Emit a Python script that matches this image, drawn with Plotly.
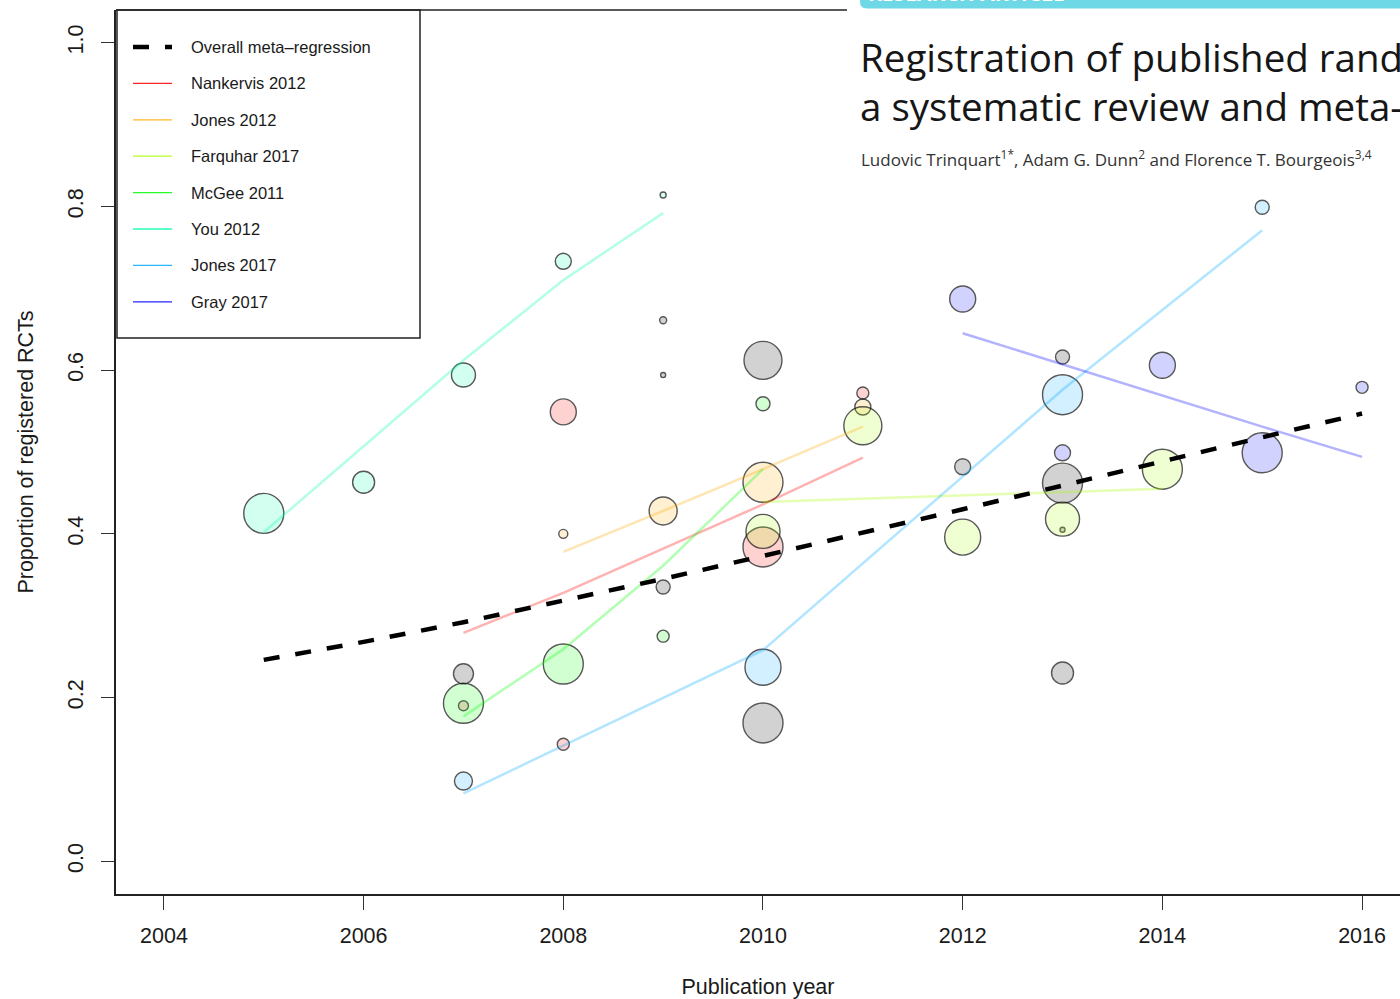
import plotly.graph_objects as go

# ---------------- data ----------------
reviews = ["Nankervis 2012", "Jones 2012", "Farquhar 2017", "McGee 2011",
           "You 2012", "Jones 2017", "Gray 2017"]
review_rgb = [(255, 0, 0), (255, 170, 0), (170, 255, 0), (0, 255, 0),
              (0, 255, 170), (0, 170, 255), (0, 0, 255)]

# individual trials (review, year, proportion registered, relative weight)
point_review = (["Other"] * 11 + ["Nankervis 2012"] * 5 + ["Jones 2012"] * 4 +
                ["Farquhar 2017"] * 5 + ["McGee 2011"] * 4 + ["You 2012"] * 5 +
                ["Jones 2017"] * 4 + ["Gray 2017"] * 5)
point_year = [2009, 2010, 2009, 2009, 2007, 2010, 2012, 2013, 2013, 2013, 2013,
              2008, 2011, 2010, 2008, 2007,
              2011, 2010, 2009, 2008,
              2011, 2010, 2012, 2013, 2014,
              2010, 2009, 2008, 2007,
              2005, 2006, 2007, 2008, 2009,
              2010, 2007, 2015, 2013,
              2012, 2014, 2016, 2015, 2013]
point_prop = [0.661, 0.612, 0.594, 0.335, 0.229, 0.169, 0.482, 0.616, 0.462, 0.230, 0.405,
              0.549, 0.572, 0.384, 0.143, 0.190,
              0.555, 0.463, 0.428, 0.400,
              0.532, 0.403, 0.396, 0.418, 0.479,
              0.559, 0.275, 0.241, 0.193,
              0.425, 0.463, 0.594, 0.733, 0.814,
              0.237, 0.098, 0.799, 0.570,
              0.687, 0.606, 0.579, 0.499, 0.499]
point_weight = [3.5, 19, 2.5, 7, 10, 20, 8, 7, 20, 11, 2.5,
                13, 6, 20, 6, 5,
                8, 20, 14, 4.5,
                19, 17, 18, 17, 20,
                7, 6, 20, 20,
                20, 11, 12, 8, 3,
                18, 9, 7, 20,
                13, 13, 6, 20, 8]

# fitted values of each review's meta-regression
fit_years_nankervis = [2007, 2008, 2010, 2011]
fit_prop_nankervis = [0.279, 0.328, 0.436, 0.493]
fit_years_jones2012 = [2008, 2009, 2010, 2011]
fit_prop_jones2012 = [0.378, 0.428, 0.479, 0.531]
fit_years_farquhar = [2010, 2011, 2012, 2013, 2014]
fit_prop_farquhar = [0.439, 0.443, 0.447, 0.451, 0.455]
fit_years_mcgee = [2007, 2008, 2009, 2010]
fit_prop_mcgee = [0.177, 0.259, 0.361, 0.479]
fit_years_you = [2005, 2006, 2007, 2008, 2009]
fit_prop_you = [0.402, 0.507, 0.612, 0.710, 0.792]
fit_years_jones2017 = [2007, 2010, 2013, 2015]
fit_prop_jones2017 = [0.083, 0.258, 0.576, 0.771]
fit_years_gray = [2012, 2013, 2014, 2015, 2016]
fit_prop_gray = [0.645, 0.607, 0.569, 0.531, 0.494]

overall_years = [2005, 2006, 2007, 2008, 2009, 2010, 2011, 2012, 2013, 2014, 2015, 2016]
overall_prop = [0.246, 0.268, 0.292, 0.318, 0.345, 0.373, 0.401, 0.430, 0.459, 0.489, 0.518, 0.547]

x_ticks = [2004, 2006, 2008, 2010, 2012, 2014, 2016]
y_ticks = [0.0, 0.2, 0.4, 0.6, 0.8, 1.0]

fit_years = [fit_years_nankervis, fit_years_jones2012, fit_years_farquhar, fit_years_mcgee,
             fit_years_you, fit_years_jones2017, fit_years_gray]
fit_props = [fit_prop_nankervis, fit_prop_jones2012, fit_prop_farquhar, fit_prop_mcgee,
             fit_prop_you, fit_prop_jones2017, fit_prop_gray]

# ---------------- layout geometry ----------------
W, H = 1400, 999
L, T, B = 116, 10, 105
PW = W - L
PH = H - T - B


def px2x(px):           # page pixel -> paper x
    return (px - L) / PW


def px2y(py):           # page pixel -> paper y
    return (T + PH - py) / PH


def rgba(c, a):
    return "rgba(%d,%d,%d,%s)" % (c[0], c[1], c[2], a)


fig = go.Figure()

# points: others first, then each review
groups = ["Other"] + reviews
for g in groups:
    idx = [i for i, r in enumerate(point_review) if r == g]
    if g == "Other":
        fill = "rgba(0,0,0,0.25)"
    else:
        fill = rgba(review_rgb[reviews.index(g)], 0.25)
    fig.add_trace(go.Scatter(
        x=[point_year[i] for i in idx],
        y=[point_prop[i] for i in idx],
        mode="markers",
        marker=dict(size=[2 * point_weight[i] for i in idx], color=fill,
                    line=dict(color="#111111", width=1.4)),
        name=g, showlegend=False, hoverinfo="x+y+name"))

# review-specific fitted lines
for name, c, xs, ys in zip(reviews, review_rgb, fit_years, fit_props):
    fig.add_trace(go.Scatter(x=xs, y=ys, mode="lines",
                             line=dict(color=rgba(c, 0.3), width=2.5),
                             name=name, showlegend=False))

# overall meta-regression
fig.add_trace(go.Scatter(x=overall_years, y=overall_prop, mode="lines",
                         line=dict(color="black", width=4.5, dash="16px,16px"),
                         name="Overall meta\u2013regression", showlegend=False))

shapes = []
annotations = []

# top border of the plot box (visible part)
shapes.append(dict(type="line", xref="paper", yref="paper", x0=0, x1=px2x(847),
                   y0=1, y1=1, line=dict(color="#222222", width=1.5)))

# ---------------- manual legend ----------------
shapes.append(dict(type="rect", xref="paper", yref="paper",
                   x0=px2x(117), x1=px2x(420), y0=px2y(338), y1=px2y(10),
                   line=dict(color="#222222", width=1.5), fillcolor="rgba(0,0,0,0)"))
legend_labels = ["Overall meta\u2013regression"] + reviews
legend_y = [47 + 36.4 * k for k in range(len(legend_labels))]
for k, (lab, ly) in enumerate(zip(legend_labels, legend_y)):
    if k == 0:
        line = dict(color="black", width=4.5, dash="16px,16px")
    else:
        line = dict(color=rgba(review_rgb[k - 1], 0.85), width=1.3)
    shapes.append(dict(type="line", xref="paper", yref="paper",
                       x0=px2x(133), x1=px2x(172), y0=px2y(ly), y1=px2y(ly), line=line))
    annotations.append(dict(text=lab, xref="paper", yref="paper", x=px2x(189), y=px2y(ly),
                            xanchor="left", yanchor="middle", showarrow=False,
                            font=dict(family="Liberation Sans, Arial", size=16.5, color="#1a1a1a")))

# ---------------- article header overlay ----------------
shapes.append(dict(type="rect", xref="paper", yref="paper", layer="above",
                   x0=px2x(847), x1=px2x(1420), y0=px2y(182), y1=px2y(-20),
                   fillcolor="white", line=dict(width=0)))
r = 7
bx0, bx1, by0, by1 = 860, 1420, -20, 8.5
path = ("M %f,%f L %f,%f L %f,%f L %f,%f Q %f,%f %f,%f Z" % (
    px2x(bx0), px2y(by0), px2x(bx1), px2y(by0), px2x(bx1), px2y(by1),
    px2x(bx0 + r), px2y(by1), px2x(bx0), px2y(by1), px2x(bx0), px2y(by1 - r)))
shapes.append(dict(type="path", xref="paper", yref="paper", layer="above", path=path,
                   fillcolor="rgb(110,216,230)", line=dict(width=0)))
annotations.append(dict(text="<b>RESEARCH ARTICLE</b>", xref="paper", yref="paper",
                        x=px2x(866), y=px2y(9), xanchor="left", yanchor="bottom",
                        showarrow=False,
                        font=dict(family="Open Sans", size=21, color="white")))

title_font = dict(family="Open Sans", size=38.5, color="#161616")
annotations.append(dict(text="Registration of published randomized trials:",
                        xref="paper", yref="paper", x=px2x(858), y=px2y(57),
                        xanchor="left", yanchor="middle", showarrow=False, font=title_font))
annotations.append(dict(text="a systematic review and meta-analysis",
                        xref="paper", yref="paper", x=px2x(858), y=px2y(106),
                        xanchor="left", yanchor="middle", showarrow=False, font=title_font))
annotations.append(dict(text="Ludovic Trinquart<sup>1*</sup>, Adam G. Dunn<sup>2</sup> and "
                             "Florence T. Bourgeois<sup>3,4</sup>",
                        xref="paper", yref="paper", x=px2x(859), y=px2y(159),
                        xanchor="left", yanchor="middle", showarrow=False,
                        font=dict(family="Open Sans", size=17, color="#333333")))

axis_font = dict(family="Liberation Sans, Arial", size=21.5, color="#1a1a1a")
fig.update_layout(
    width=W, height=H,
    margin=dict(l=L, r=0, t=T, b=B, autoexpand=False),
    paper_bgcolor="white", plot_bgcolor="white",
    shapes=shapes, annotations=annotations,
    showlegend=False,
    xaxis=dict(range=[2003.52, 2016.38], tickvals=x_ticks, ticktext=[str(v) for v in x_ticks],
               showgrid=False, zeroline=False, showline=True, linecolor="#222222", linewidth=1.5,
               ticks="outside", ticklen=14, tickwidth=1.2, tickcolor="#333333",
               tickfont=axis_font, ticklabelstandoff=7,
               title=dict(text="Publication year", font=axis_font, standoff=35)),
    yaxis=dict(range=[-0.04, 1.04], tickvals=y_ticks, ticktext=["%.1f" % v for v in y_ticks],
               showgrid=False, zeroline=False, showline=True, linecolor="#222222", linewidth=1.5,
               ticks="outside", ticklen=13, tickwidth=1.2, tickcolor="#333333",
               tickfont=axis_font, tickangle=-90, ticklabelstandoff=10,
               title=dict(text="Proportion of registered RCTs", font=axis_font, standoff=24)),
)

fig.write_html("out.html",
               config={"displayModeBar": False},
               post_script="document.body.style.margin='0';document.body.style.overflow='hidden';")
